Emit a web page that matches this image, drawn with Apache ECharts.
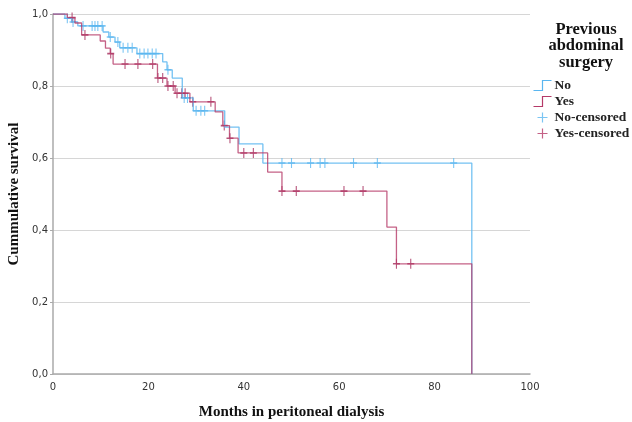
<!DOCTYPE html>
<html>
<head>
<meta charset="UTF-8">
<title>Survival</title>
<script src="https://cdn.jsdelivr.net/npm/echarts@6/dist/echarts.min.js"></script>
<style>
  html, body { margin: 0; padding: 0; background: #fff; }
</style>
</head>
<body>
<div id="main" style="width: 632px; height: 422px;"></div>
<script type="text/javascript">
// step points: [month, survival] - each point is where the curve drops to
var noSteps = [[0, 1.0], [2.5, 0.988], [3.9, 0.978], [5.2, 0.967], [10.5, 0.95], [11.7, 0.936],
  [13, 0.922], [14, 0.906], [17.6, 0.89], [23, 0.867], [23.9, 0.845], [25, 0.822],
  [27.1, 0.767], [29.4, 0.731], [36, 0.686], [39, 0.639], [44, 0.586], [87.8, 0]];
var yesSteps = [[0, 1.0], [3, 0.99], [4.6, 0.975], [6, 0.942], [9.9, 0.925], [11, 0.905],
  [12, 0.89], [12.6, 0.861], [21.9, 0.822], [23.9, 0.8], [25.6, 0.78], [28.7, 0.756],
  [34, 0.728], [35.6, 0.69], [37, 0.655], [38.8, 0.614], [45, 0.561], [48, 0.508],
  [70, 0.408], [72, 0.306], [87.8, 0]];
// censored marks
var noCensored = [[3, 0.988], [4.2, 0.978], [6.3, 0.967], [8.2, 0.967], [8.8, 0.967], [9.4, 0.967],
  [10.3, 0.967], [12, 0.936], [13.6, 0.922], [14.7, 0.906], [15.7, 0.906], [16.6, 0.906],
  [18.2, 0.89], [19.1, 0.89], [19.9, 0.89], [20.8, 0.89], [21.6, 0.89], [24.1, 0.845],
  [27.5, 0.767], [28.2, 0.767], [30, 0.731], [31, 0.731], [31.8, 0.731],
  [48, 0.586], [50, 0.586], [54, 0.586], [56, 0.586], [57, 0.586], [63, 0.586], [68, 0.586], [84, 0.586]];
var yesCensored = [[4, 0.99], [6.7, 0.942], [12.1, 0.89], [15.1, 0.861], [17.8, 0.861], [20.9, 0.861],
  [22, 0.822], [23, 0.822], [24.1, 0.8], [25.2, 0.8], [26, 0.78], [27, 0.78], [27.7, 0.78],
  [29.3, 0.756], [33.1, 0.756], [35.9, 0.69], [37.1, 0.655], [40, 0.614], [42, 0.614],
  [48, 0.508], [51, 0.508], [61, 0.508], [65, 0.508], [72, 0.306], [75, 0.306]];
var xTicks = [0, 20, 40, 60, 80, 100];

var blue = '#5ab6f0';
var red = '#b53a68';
var plus = 'path://M5,0L5,10M0,5L10,5';
var stepIcon = 'path://M0,10L9,10L9,0L18,0';

var myChart = echarts.init(document.getElementById('main'));
var option = {
  animation: false,
  title: {
    text: 'Previous\nabdominal\nsurgery',
    left: 581,
    top: 16,
    textAlign: 'center',
    textStyle: { fontFamily: 'Liberation Serif', fontWeight: 'bold', fontSize: 16.5, lineHeight: 16.5, color: '#111' }
  },
  legend: {
    orient: 'vertical',
    left: 526,
    top: 73,
    itemWidth: 20,
    itemHeight: 10,
    itemGap: 1,
    textStyle: { fontFamily: 'Liberation Serif', fontWeight: 'bold', fontSize: 13.5, lineHeight: 15, color: '#222', padding: [0, 0, 0, -3] },
    data: [
      { name: 'No', icon: stepIcon, itemStyle: { color: 'none', borderColor: blue, borderWidth: 1.2 } },
      { name: 'Yes', icon: stepIcon, itemStyle: { color: 'none', borderColor: red, borderWidth: 1.2 } },
      { name: 'No-censored', icon: plus, itemStyle: { color: 'none', borderColor: blue, borderWidth: 1.2 } },
      { name: 'Yes-censored', icon: plus, itemStyle: { color: 'none', borderColor: red, borderWidth: 1.2 } }
    ]
  },
  grid: { left: 53, right: 102, top: 14, bottom: 48, outerBoundsMode: 'none', containLabel: false },
  xAxis: {
    type: 'value', min: 0, max: 100, interval: 20,
    name: 'Months in peritoneal dialysis',
    nameLocation: 'middle', nameGap: 31,
    nameTextStyle: { fontFamily: 'Liberation Serif', fontWeight: 'bold', fontSize: 15, color: '#111' },
    axisLine: { lineStyle: { color: '#aaa', width: 1.5 } },
    axisTick: { show: false },
    splitLine: { show: false },
    axisLabel: {
      color: '#333', fontSize: 10, fontFamily: 'DejaVu Sans', margin: 8,
      formatter: function (v) { return xTicks.indexOf(v) >= 0 ? String(v) : ''; }
    }
  },
  yAxis: {
    type: 'value', min: 0, max: 1, interval: 0.2,
    name: 'Cummulative survival',
    nameLocation: 'middle', nameGap: 25,
    nameTextStyle: { fontFamily: 'Liberation Serif', fontWeight: 'bold', fontSize: 15, color: '#111' },
    axisLine: { show: true, lineStyle: { color: '#aaa', width: 1.5 } },
    axisTick: { show: true, length: 3, lineStyle: { color: '#aaa' } },
    splitLine: { lineStyle: { color: '#d6d6d6', width: 1 } },
    axisLabel: {
      color: '#333', fontSize: 10, fontFamily: 'DejaVu Sans', margin: 5,
      formatter: function (v) { return v.toFixed(1).replace('.', ','); }
    }
  },
  series: [
    { name: 'No', type: 'line', step: 'end', data: noSteps, symbol: 'none', color: blue,
      lineStyle: { color: blue, width: 1.3, opacity: 0.85 } },
    { name: 'Yes', type: 'line', step: 'end', data: yesSteps, symbol: 'none', color: red,
      lineStyle: { color: red, width: 1.3, opacity: 0.8 } },
    { name: 'No-censored', type: 'scatter', data: noCensored, symbol: plus, symbolSize: [7, 10],
      itemStyle: { color: 'none', borderColor: blue, borderWidth: 1.3 } },
    { name: 'Yes-censored', type: 'scatter', data: yesCensored, symbol: plus, symbolSize: [7, 10],
      itemStyle: { color: 'none', borderColor: '#a52a5a', borderWidth: 1.3 } }
  ]
};
myChart.setOption(option);
</script>
</body>
</html>
